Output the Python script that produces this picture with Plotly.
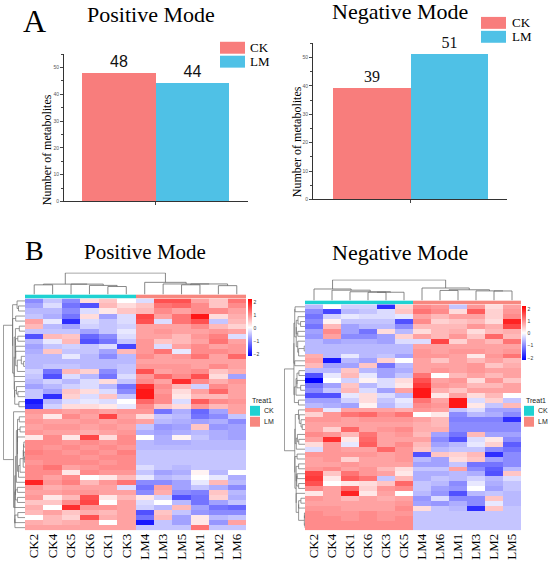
import numpy as np
import plotly.graph_objects as go

W, H = 550, 564
SERIF = "Liberation Serif"
SANS = "Liberation Sans"

# ---- data ----
groups = ["CK", "LM"]
pos_counts = [48, 44]
neg_counts = [39, 51]

pos_samples = ["CK2", "CK4", "CK5", "CK6", "CK1", "CK3", "LM4", "LM3", "LM5", "LM1", "LM2", "LM6"]
neg_samples = ["CK2", "CK4", "CK1", "CK6", "CK3", "CK5", "LM4", "LM6", "LM1", "LM3", "LM2", "LM5"]

# scaled abundance, rows top -> bottom, columns in sample order above
pos_values = [
    [-1.0, -0.5, -1.0, 0.3, 0.5, 0.0, -0.3, 1.5, 1.5, 0.8, 0.5, 1.2],
    [-0.8, -0.3, -1.2, -1.5, 0.6, 0.3, 0.5, 1.2, 1.3, 1.0, 0.5, 1.0],
    [-0.6, -0.6, -1.0, -0.3, 0.2, 0.5, 0.6, 1.0, 0.8, 1.0, 1.0, 0.8],
    [-0.5, -0.7, -1.2, 0.3, -0.8, -0.3, 1.6, 0.8, 1.2, 2.0, 0.3, 0.7],
    [0.8, -0.2, -1.8, -0.3, -0.5, -0.3, 1.5, -0.3, 1.2, 1.5, -0.5, 0.6],
    [0.6, -0.6, -0.8, -0.4, -0.5, -0.4, 0.8, 0.8, 0.8, 1.0, 0.6, 0.4],
    [-0.5, -0.5, -0.5, -0.8, -0.5, -0.2, 0.8, 0.9, 0.8, 0.8, 0.9, 0.8],
    [-1.5, 0.6, 0.5, -1.3, -1.0, -0.3, 0.8, 0.8, 0.6, 0.9, 1.1, -0.3],
    [-0.6, -0.2, 0.6, -1.5, -1.2, -0.5, 0.9, 0.5, 0.6, 0.8, 1.2, 0.8],
    [-0.8, -0.5, -0.4, -0.5, -0.3, -1.6, 0.9, -0.3, 0.8, 1.0, 0.8, 0.9],
    [-0.7, 0.5, -0.5, -0.5, -0.8, 0.6, 0.9, 1.2, -0.2, 1.0, 1.0, 0.9],
    [-0.6, -0.6, -0.2, -0.6, -1.0, -0.6, 1.0, 0.8, 0.9, 1.2, 0.8, 1.3],
    [-0.6, -0.6, -0.6, -0.6, -0.6, -0.6, 0.8, 0.8, 0.8, 0.8, 0.8, 0.8],
    [-0.6, -0.5, -0.5, -0.6, -0.6, -0.5, 0.9, 0.9, 0.9, 0.8, 1.0, 0.8],
    [-0.4, -1.2, 0.6, 0.4, -1.0, -0.5, 1.5, 0.8, 0.9, 1.0, 0.5, 0.7],
    [-0.5, -1.5, -0.3, -0.6, -1.2, -0.3, 0.9, 1.3, 1.0, 1.5, 0.3, -0.8],
    [-0.6, -0.4, -0.6, -0.3, 0.3, -0.5, 1.0, 0.8, 1.8, 1.0, 0.7, 0.9],
    [-0.8, -0.6, -0.4, -0.3, -0.6, -1.2, 1.8, 1.0, 0.6, -0.4, 1.0, 0.8],
    [-0.5, -0.8, 0.5, 0.3, -0.3, -1.0, 2.0, 0.9, 0.3, 0.8, 1.3, 0.8],
    [-0.5, -1.8, 0.4, -0.3, 0.5, -0.5, 2.0, 1.0, 0.2, 0.6, 0.6, 0.8],
    [-2.0, -0.6, -0.3, -0.2, -0.3, 0.0, 1.3, 1.0, -0.3, 1.4, 1.0, 0.9],
    [-1.8, -0.4, 0.3, 0.3, 0.2, -0.2, 1.0, 0.5, 0.3, 0.9, 0.6, 0.8],
    [0.9, 0.9, 0.8, 0.9, 0.8, 0.9, 0.9, -1.2, -0.7, -1.3, -0.8, 0.8],
    [0.8, 0.2, 1.0, 0.8, 1.6, 0.8, 0.3, -0.5, -0.6, -1.2, -1.0, -0.5],
    [0.9, 0.8, 0.8, 0.9, 0.8, 0.9, 0.8, -0.6, -0.7, -0.8, -0.7, -1.0],
    [0.8, 0.9, 0.9, 0.8, 0.9, 0.8, -0.5, -0.9, -0.8, 0.5, -0.9, -0.8],
    [0.9, 0.8, 0.8, 0.7, 0.8, 0.9, -0.7, -0.8, -0.7, -0.6, -0.7, -0.8],
    [0.2, 1.0, 0.2, 1.6, 0.3, 1.0, 0.0, -0.7, 0.1, -0.5, -0.7, -0.8],
    [1.0, 1.0, 0.9, 1.0, 0.9, 1.0, -0.6, -0.7, -0.7, -0.6, -0.6, -0.6],
    [1.0, 0.9, 1.0, 0.9, 1.0, 0.9, -0.6, -0.6, -0.6, -0.6, -0.6, -0.6],
    [1.1, 1.0, 0.9, 1.0, 0.9, 1.1, -0.5, -0.5, -0.5, -0.5, -0.5, -0.5],
    [1.0, 1.0, 1.0, 0.9, 1.0, 1.0, -0.5, -0.5, -0.5, -0.5, -0.5, -0.5],
    [0.9, 1.0, 1.0, 1.0, 0.9, 1.0, -0.5, -0.5, -0.5, -0.5, -0.5, -0.5],
    [1.0, 1.2, 0.8, 0.9, 1.0, 1.0, -0.3, -0.5, -0.6, -0.5, -0.5, -0.5],
    [1.0, 1.0, 0.2, 1.0, 0.9, 0.9, -0.5, -0.8, -0.7, 0.1, -0.6, 0.0],
    [1.0, 0.8, 1.0, 0.0, 0.2, 0.6, -0.2, -0.6, -0.5, 0.0, -0.2, -0.7],
    [1.9, 0.9, 1.1, 0.6, 0.9, 1.2, -1.0, -1.0, -0.8, -0.2, 0.6, -0.6],
    [0.9, 0.7, 0.8, 0.8, 0.8, -0.3, -1.2, 0.8, -0.8, -0.5, -0.7, -1.0],
    [0.8, 0.8, 0.9, 0.9, 0.8, 0.8, -1.0, 0.7, -1.0, -1.1, 0.5, -0.6],
    [0.9, 0.2, 0.6, 1.5, 0.2, 0.6, 0.2, -0.4, -1.5, -1.2, 0.4, -0.7],
    [0.5, 0.5, 1.0, 1.6, 0.0, 0.8, -0.3, 0.0, -0.6, -1.2, -0.8, -0.5],
    [0.7, 0.0, 1.8, 0.9, 0.9, 0.8, -0.4, -0.6, 0.6, -0.8, -1.2, -1.3],
    [0.6, 0.8, 0.5, 0.7, 0.6, 0.8, -1.5, 0.5, -0.5, -0.9, -1.0, -1.0],
    [0.0, 0.6, 0.4, 1.5, 0.7, 0.8, -1.2, 0.6, -0.8, 0.2, -0.6, -0.5],
    [0.7, 0.6, 0.7, 0.8, 0.0, 0.8, -2.0, -0.5, -0.8, 0.2, -0.9, 0.8],
    [0.8, 0.8, 0.8, 0.8, 0.8, 0.8, -0.5, -0.5, -0.5, 1.2, -0.5, -0.5],
]

neg_values = [
    [-0.6, 0.0, -0.4, -0.4, -1.8, 0.4, 1.0, 0.9, -0.5, 0.9, 0.3, 0.8],
    [-1.0, -1.6, -0.6, -0.5, -0.3, 0.5, 1.2, 1.0, 0.3, 1.4, 0.4, 0.9],
    [-1.2, -0.4, -0.2, -0.3, -0.3, -0.2, 0.8, 0.6, 0.8, 0.8, 0.4, 1.0],
    [-1.0, 0.1, -0.5, -0.5, -0.5, -1.5, 1.0, 0.4, 0.5, 0.6, 0.3, 1.9],
    [-1.2, 0.6, -0.8, -0.6, -0.6, -1.0, 0.6, 0.6, 0.6, 0.9, 0.7, 1.6],
    [-0.8, 1.0, -0.8, -1.2, 0.3, -0.6, 0.3, 0.6, 0.7, 0.3, 0.6, 0.7],
    [-0.9, 0.8, -1.0, -1.0, -0.8, 0.4, 0.8, 0.6, 0.9, 0.5, 1.3, 0.6],
    [-0.6, -0.8, -0.7, -0.7, -0.8, -0.3, -0.3, 1.6, 0.4, 0.8, 0.6, 1.2],
    [-0.6, -0.6, -0.6, -0.6, -0.6, -0.6, 0.8, 0.8, 0.8, 0.8, 0.8, 0.8],
    [-0.6, -0.6, -0.6, -0.6, -0.6, -0.6, 0.9, 0.8, 0.9, 0.9, 0.8, 0.9],
    [0.7, -0.6, -0.2, -0.6, -0.5, -0.8, 0.9, 0.9, 0.8, 0.2, 0.9, 1.2],
    [0.8, -2.0, -0.6, -0.8, 0.4, 0.0, 0.8, 0.5, 0.8, 0.6, 0.8, 0.6],
    [0.6, -0.8, -0.8, 0.5, -1.2, -0.6, 0.8, 0.8, 0.8, 0.9, 0.5, 0.7],
    [-0.6, -0.6, 0.5, -0.6, -0.8, -0.7, 0.8, 0.9, 0.8, 0.9, 0.8, 0.8],
    [-1.5, -0.2, 0.6, -0.2, -0.8, -0.5, 1.2, 0.0, 0.6, 0.8, 0.6, 0.8],
    [-2.3, 0.0, -0.4, 0.1, -0.3, 0.3, 1.5, 0.8, 0.9, 0.3, 0.9, 0.5],
    [-1.2, -0.8, 0.5, -0.6, -0.3, 0.2, 1.7, 0.9, 0.8, 0.6, 0.6, 0.8],
    [-1.0, -0.5, 0.6, -0.3, -0.8, 0.8, 2.0, 0.7, 0.5, 0.8, 0.8, 0.8],
    [-1.5, -1.5, -0.2, 0.3, -0.3, -0.6, 2.0, 0.2, 0.8, 0.3, 0.6, 0.0],
    [-0.8, -0.8, -0.4, 0.3, -0.5, -0.2, 1.2, 0.8, 2.0, -0.3, 0.4, -0.5],
    [-0.6, -0.7, -0.8, 0.1, -0.6, -0.3, 1.0, 0.9, 2.0, 0.2, -0.5, 0.6],
    [0.9, -0.2, 0.8, 0.8, 0.8, 0.7, 0.9, 0.8, -0.5, -0.3, -0.8, -0.8],
    [0.4, 0.9, 1.2, 1.3, 1.0, 1.2, 0.0, 0.2, -1.0, -0.6, -0.7, -1.0],
    [0.9, 0.9, 0.8, 0.9, 0.9, 0.9, 0.8, 0.6, -1.1, -1.1, -1.1, -1.8],
    [0.8, 0.8, 0.8, 0.8, 0.8, 0.8, 0.7, 0.6, -1.0, -1.0, -1.0, -1.0],
    [0.8, 0.4, 1.3, 0.8, 0.9, 1.0, 0.7, 0.7, -1.0, -1.0, -1.0, -1.0],
    [1.0, 0.9, 0.6, 1.2, 0.8, 0.9, 0.6, -0.8, -1.2, 0.6, -0.8, -0.8],
    [0.8, 1.8, 0.2, 1.3, 0.8, 0.8, 0.8, -1.0, -1.5, -0.3, 0.2, -1.0],
    [0.3, 0.9, -0.2, 1.4, 0.8, 1.0, 0.6, -0.8, -0.6, -0.2, 0.4, -1.4],
    [-0.3, 0.9, 0.8, 0.8, 1.3, 0.9, 0.5, -0.6, -0.5, -0.5, -1.0, -1.2],
    [0.9, 0.9, 0.9, 0.9, 0.8, 0.9, -1.5, 0.5, 0.4, 0.6, -1.8, -1.0],
    [0.8, 0.9, 0.4, 0.8, 0.8, 0.9, -0.6, -0.8, 0.3, 0.5, -0.8, -1.0],
    [0.8, 0.8, 0.9, 0.8, 0.8, 0.8, -0.8, -0.8, -0.5, -1.2, -1.2, -1.0],
    [0.9, 1.0, 0.8, 0.9, 0.6, 0.3, -0.5, -0.5, 0.8, -1.0, -1.4, -0.6],
    [1.6, 0.5, 1.2, 0.9, 0.8, 0.2, -0.7, -0.7, -0.6, -0.7, -1.5, 0.5],
    [1.7, 0.2, 1.4, 1.2, -0.5, 0.6, -0.7, -0.5, -0.6, -0.4, -0.6, -0.3],
    [1.5, 0.0, 0.2, 0.3, 0.5, 1.3, -0.5, -0.6, -1.0, -0.2, -0.7, -0.5],
    [1.0, 0.8, 1.3, 0.4, 0.9, 1.0, -0.5, -0.8, -0.9, 0.0, -0.8, -0.5],
    [0.2, 0.8, 1.9, 0.2, 0.8, 0.0, -0.6, -0.9, -1.5, -0.6, -0.5, -0.6],
    [0.9, 0.8, 0.6, 0.8, 0.7, 0.8, -0.9, -0.3, -1.0, -1.0, 0.5, -0.6],
    [0.8, 0.8, 0.8, 0.8, 0.8, 0.9, -0.8, -0.9, -0.7, -1.0, -0.2, -0.6],
    [0.9, 0.9, 0.8, 0.8, 0.8, 1.0, 0.3, -0.5, -0.6, -1.8, 0.5, -0.5],
    [1.0, 0.9, 0.9, 1.0, 0.9, 0.9, -0.5, -0.5, -0.5, -0.5, -0.5, -0.5],
    [1.0, 1.0, 0.9, 1.0, 0.9, 1.0, -0.5, -0.5, -0.5, -0.5, -0.5, -0.5],
    [1.0, 1.0, 1.0, 1.0, 1.0, 1.0, -0.5, -0.5, -0.5, -0.5, -0.5, -0.5],
    [1.0, 1.0, 1.0, 1.0, 1.0, 1.0, -0.5, -0.5, -0.5, -0.5, -0.5, -0.5],
]

CK_RED = "#f87d7c"
LM_BLUE = "#4fc1e6"
TREAT_COLORS = {"CK": "#1ed2d2", "LM": "#f7877f"}
HEAT_SCALE = [[0, "#0000ff"], [0.5, "#ffffff"], [1, "#ff0000"]]
LINE = "#6a6a6a"


def px_x(a, b):
    return [a / W, b / W]


def px_y(top, bottom):
    return [1 - bottom / H, 1 - top / H]


def ordered_tree(mat):
    # average-linkage clustering, only neighbours may join (keeps the drawn order)
    mat = np.asarray(mat, dtype=float)
    items = [[i] for i in range(len(mat))]
    pos = [float(i) for i in range(len(mat))]
    hts = [0.0] * len(mat)
    a_s, h_s = [], []
    while len(items) > 1:
        d = []
        for k in range(len(items) - 1):
            A, B = mat[items[k]], mat[items[k + 1]]
            d.append(np.linalg.norm(A[:, None, :] - B[None, :, :], axis=2).mean())
        k = int(np.argmin(d))
        h = max(d[k], hts[k], hts[k + 1])
        a_s += [pos[k], pos[k], pos[k + 1], pos[k + 1], None]
        h_s += [hts[k], h, h, hts[k + 1], None]
        items[k:k + 2] = [items[k] + items[k + 1]]
        pos[k:k + 2] = [(pos[k] + pos[k + 1]) / 2]
        hts[k:k + 2] = [h]
    return a_s, h_s, max(hts)


fig = go.Figure()
ann = []
shapes = []


def text(x, y, s, size, font=SERIF, color="black", angle=0, xanchor="center"):
    ann.append(dict(x=x / W, y=1 - y / H, xref="paper", yref="paper", text=s,
                    showarrow=False, textangle=angle, xanchor=xanchor, yanchor="middle",
                    font=dict(family=font, size=size, color=color)))


def box(x0, y0, x1, y1, color):
    shapes.append(dict(type="rect", xref="paper", yref="paper", x0=x0 / W, x1=x1 / W,
                       y0=1 - y1 / H, y1=1 - y0 / H, fillcolor=color, line_width=0))


# ---- A: bar charts ----
def bar_panel(n, counts, xdom, ydom, xr, label_font):
    xa, ya = ("x", "y") if n == 1 else ("x%d" % n, "y%d" % n)
    for i, (g, c) in enumerate(zip(groups, counts)):
        fig.add_trace(go.Bar(x=[i], y=[c], width=1, xaxis=xa, yaxis=ya, showlegend=False,
                             marker=dict(color=CK_RED if g == "CK" else LM_BLUE, line_width=0),
                             text=[str(c)], textposition="outside", cliponaxis=False,
                             textfont=dict(family=label_font, size=16, color="#111")))
    key = "" if n == 1 else str(n)
    fig.layout["xaxis" + key] = dict(domain=xdom, range=xr, tickvals=[0.5], ticktext=[""],
                                     ticks="outside", ticklen=3, showline=True, linecolor="#333",
                                     linewidth=1, showgrid=False, zeroline=False, anchor="y" + key)
    fig.layout["yaxis" + key] = dict(domain=ydom, range=[0, 55], dtick=10, ticks="outside",
                                     ticklen=3, showline=True, linecolor="#333", linewidth=1,
                                     showgrid=False, zeroline=False, anchor="x" + key,
                                     tickfont=dict(size=5, color="#555", family=SANS),
                                     minor=dict(dtick=5, ticks="outside", ticklen=2))


bar_panel(1, pos_counts, px_x(64, 248), px_y(54.5, 202.5), [-0.747, 1.76], SANS)
bar_panel(2, neg_counts, px_x(313, 507), px_y(43.5, 200.5), [-0.76, 1.747], SERIF)

text(35, 21, "A", 32)
text(151, 15, "Positive Mode", 22)
text(400, 12, "Negative Mode", 22)
text(47, 151, "Number of metabolites", 12, angle=-90)
text(297, 143, "Number of metabolites", 12, angle=-90)

for (bx, by, tx) in [(220, 42, 248), (481, 17, 510)]:
    box(bx, by, bx + 25, by + 12, CK_RED)
    box(bx, by + 14, bx + 25, by + 26, LM_BLUE)
    text(tx, by + 6, "CK", 13, xanchor="left")
    text(tx, by + 20, "LM", 13, xanchor="left")

# ---- B: clustered heatmaps ----
def heat_panel(n0, values, samples, hx, hy, bar_y, col_y, row_x, cbar):
    z = np.asarray(values)
    nrow, ncol = z.shape
    keys = [str(n0 + i) for i in range(4)]
    # heatmap
    fig.add_trace(go.Heatmap(z=z, x=list(range(ncol)), y=list(range(nrow)),
                             xaxis="x" + keys[0], yaxis="y" + keys[0], zmin=-2.2, zmax=2.2,
                             colorscale=HEAT_SCALE, hoverinfo="skip",
                             colorbar=dict(x=cbar[0] / W, xanchor="left", y=1 - cbar[1] / H,
                                           yanchor="top", len=cbar[2], lenmode="pixels",
                                           thickness=4, xpad=0, ypad=0, outlinewidth=0,
                                           tickvals=[-2, -1, 0, 1, 2], ticks="",
                                           tickfont=dict(size=5, color="#333", family=SANS))))
    # treatment strip
    treat = [s[:2] for s in samples]
    fig.add_trace(go.Heatmap(z=[[groups.index(t) for t in treat]], x=list(range(ncol)),
                             xaxis="x" + keys[1], yaxis="y" + keys[1], showscale=False,
                             colorscale=[[0, TREAT_COLORS["CK"]], [1, TREAT_COLORS["LM"]]],
                             zmin=0, zmax=1, hoverinfo="skip"))
    # column dendrogram
    cx, ch, cmax = ordered_tree(z.T)
    fig.add_trace(go.Scatter(x=cx, y=ch, mode="lines", line=dict(color=LINE, width=0.8),
                             xaxis="x" + keys[2], yaxis="y" + keys[2], showlegend=False,
                             hoverinfo="skip"))
    # row dendrogram
    ry, rh, rmax = ordered_tree(z)
    fig.add_trace(go.Scatter(x=rh, y=ry, mode="lines", line=dict(color=LINE, width=0.7),
                             xaxis="x" + keys[3], yaxis="y" + keys[3], showlegend=False,
                             hoverinfo="skip"))
    xr = [-0.5, ncol - 0.5]
    yr = [nrow - 0.5, -0.5]
    hidden = dict(showticklabels=False, ticks="", showgrid=False, zeroline=False, showline=False)
    fig.layout["xaxis" + keys[0]] = dict(domain=px_x(*hx), range=xr, anchor="y" + keys[0],
                                         tickvals=list(range(ncol)), ticktext=samples,
                                         tickangle=-90, ticks="", showgrid=False, zeroline=False,
                                         tickfont=dict(family=SERIF, size=13, color="black"))
    fig.layout["yaxis" + keys[0]] = dict(domain=px_y(*hy), range=yr, anchor="x" + keys[0], **hidden)
    fig.layout["xaxis" + keys[1]] = dict(domain=px_x(*hx), range=xr, anchor="y" + keys[1], **hidden)
    fig.layout["yaxis" + keys[1]] = dict(domain=px_y(*bar_y), range=[-0.5, 0.5],
                                         anchor="x" + keys[1], **hidden)
    fig.layout["xaxis" + keys[2]] = dict(domain=px_x(*hx), range=xr, anchor="y" + keys[2], **hidden)
    fig.layout["yaxis" + keys[2]] = dict(domain=px_y(*col_y), range=[0, cmax * 1.02],
                                         anchor="x" + keys[2], **hidden)
    fig.layout["xaxis" + keys[3]] = dict(domain=px_x(*row_x), range=[rmax * 1.02, 0],
                                         anchor="y" + keys[3], **hidden)
    fig.layout["yaxis" + keys[3]] = dict(domain=px_y(*hy), range=yr, anchor="x" + keys[3], **hidden)


heat_panel(3, pos_values, pos_samples, (25, 246), (300, 533), (296, 300), (274, 296), (3, 25),
           (248, 301, 57))
heat_panel(7, neg_values, neg_samples, (305, 521), (306, 533), (302, 306), (281, 302), (284, 305),
           (522, 308, 54))

text(35, 252, "B", 28)
text(145, 253, "Positive Mode", 21)
text(400, 254, "Negative Mode", 22)

for lx in [250, 524]:
    text(lx, 403, "Treat1", 7, font=SANS, color="#222", xanchor="left")
    box(lx, 408, lx + 10, 418, TREAT_COLORS["CK"])
    box(lx, 419, lx + 10, 429, TREAT_COLORS["LM"])
    text(lx + 12, 413, "CK", 7, font=SANS, color="#222", xanchor="left")
    text(lx + 12, 424, "LM", 7, font=SANS, color="#222", xanchor="left")

fig.update_layout(width=W, height=H, margin=dict(l=0, r=0, t=0, b=0),
                  paper_bgcolor="white", plot_bgcolor="white", showlegend=False,
                  annotations=ann, shapes=shapes, bargap=0)
fig.write_html("out.html", config={"displayModeBar": False},
               post_script="document.body.style.margin='0';document.body.style.padding='0';")
